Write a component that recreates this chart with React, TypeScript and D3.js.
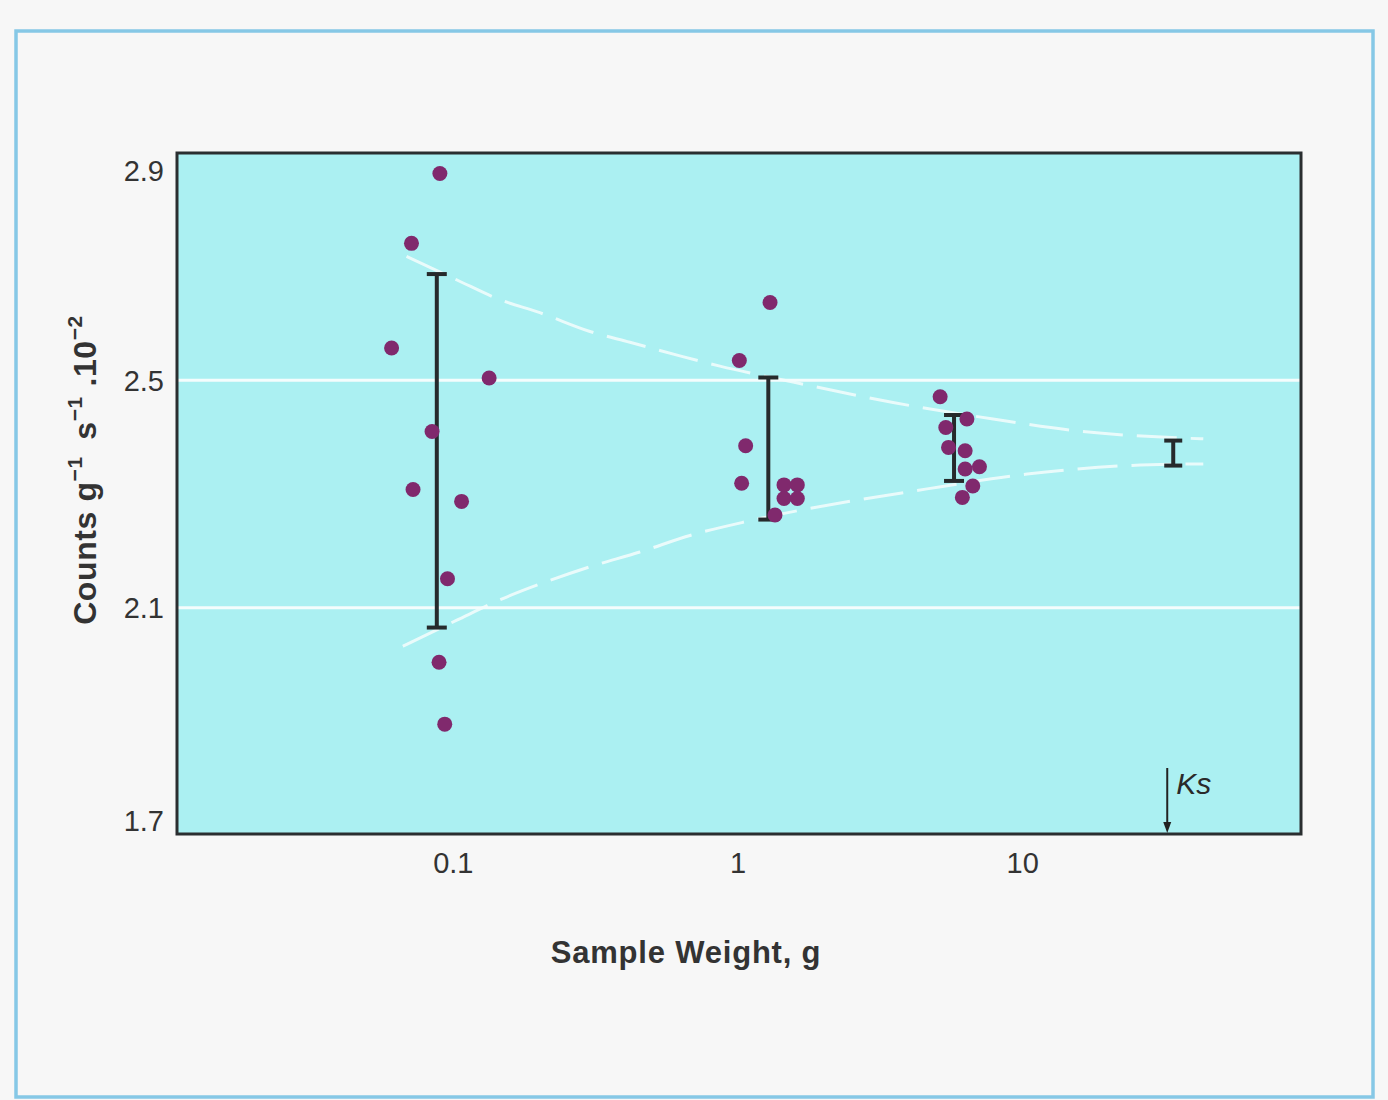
import React, { useEffect, useRef } from "react";
import * as d3 from "d3";

// sample weight (g) / counts g-1 s-1 .10-2
const set01W = [0.0897, 0.0713, 0.0607, 0.1336, 0.0842, 0.0722, 0.1069, 0.0954, 0.0891, 0.0933];
const set01V = [2.864, 2.741, 2.557, 2.504, 2.41, 2.308, 2.287, 2.151, 2.004, 1.895];
const set1W = [1.296, 1.011, 1.064, 1.03, 1.451, 1.616, 1.451, 1.616, 1.349];
const set1V = [2.637, 2.535, 2.385, 2.319, 2.316, 2.316, 2.292, 2.292, 2.263];
const set10W = [5.13, 6.37, 5.37, 5.49, 6.28, 6.28, 7.05, 6.68, 6.14];
const set10V = [2.471, 2.432, 2.417, 2.382, 2.376, 2.344, 2.348, 2.314, 2.294];

// mean +/- s.d. bars
const barW = [0.0875, 1.278, 5.74, 33.8];
const barLo = [2.065, 2.255, 2.323, 2.35];
const barHi = [2.687, 2.505, 2.439, 2.394];

// dashed envelope
const upperW = [0.0685, 0.1026, 0.1457, 0.2014, 0.302, 0.4173, 0.625, 0.864, 1.561, 3.506, 7.876, 15.54, 43.1];
const upperV = [2.718, 2.677, 2.642, 2.619, 2.586, 2.567, 2.543, 2.525, 2.497, 2.461, 2.432, 2.411, 2.397];
const lowerW = [0.0665, 0.1029, 0.1493, 0.2184, 0.302, 0.4522, 0.678, 1.102, 4.617, 10.37, 23.3, 43.1];
const lowerV = [2.032, 2.078, 2.116, 2.148, 2.172, 2.198, 2.227, 2.253, 2.309, 2.335, 2.35, 2.353];

const yTicks = [1.7, 2.1, 2.5, 2.9];
const gridVals = [2.1, 2.5];
const xTicks = [0.1, 1, 10];
const ksW = 32.2;

const W = 1388, H = 1100;
const font = "'Liberation Sans', Arial, Helvetica, sans-serif";

export default function App() {
  const ref = useRef<SVGSVGElement>(null);

  useEffect(() => {
    const svg = d3.select(ref.current);
    svg.selectAll("*").remove();

    const left = 177, right = 1301, top = 153, bottom = 834;
    const x = d3.scaleLog().domain([0.0107, 95]).range([left, right]);
    const y = d3.scaleLinear().domain([1.7, 2.9]).range([835, 153]);

    svg.append("rect").attr("width", W).attr("height", H).attr("fill", "#f7f7f7");
    svg.append("rect")
      .attr("x", 16).attr("y", 31).attr("width", 1357).attr("height", 1066)
      .attr("fill", "none").attr("stroke", "#86c8e6").attr("stroke-width", 3.5);

    svg.append("rect")
      .attr("x", left).attr("y", top).attr("width", right - left).attr("height", bottom - top)
      .attr("fill", "#abf0f2");

    svg.append("g").selectAll("line").data(gridVals).join("line")
      .attr("x1", left).attr("x2", right)
      .attr("y1", d => y(d)).attr("y2", d => y(d))
      .attr("stroke", "#f4fdfd").attr("stroke-width", 3);

    // envelope curves
    const line = d3.line<[number, number]>()
      .x(d => x(d[0])).y(d => y(d[1]))
      .curve(d3.curveMonotoneX);
    const env = svg.append("g")
      .attr("fill", "none").attr("stroke", "#f4fdfd").attr("stroke-width", 3)
      .attr("stroke-dasharray", "40 14").attr("opacity", 0.85);
    env.append("path").attr("d", line(upperW.map((w, i) => [w, upperV[i]])));
    env.append("path").attr("d", line(lowerW.map((w, i) => [w, lowerV[i]])));

    // error bars
    const bars = svg.append("g").attr("stroke", "#262a2c").attr("stroke-width", 4);
    barW.forEach((w, i) => {
      const cx = x(w);
      const hw = i === 3 ? 9 : 10;
      bars.append("line").attr("x1", cx).attr("x2", cx).attr("y1", y(barHi[i])).attr("y2", y(barLo[i]));
      bars.append("line").attr("x1", cx - hw).attr("x2", cx + hw).attr("y1", y(barHi[i])).attr("y2", y(barHi[i]));
      bars.append("line").attr("x1", cx - hw).attr("x2", cx + hw).attr("y1", y(barLo[i])).attr("y2", y(barLo[i]));
    });

    // points
    const pts: [number, number][] = [
      ...set01W.map((w, i) => [w, set01V[i]] as [number, number]),
      ...set1W.map((w, i) => [w, set1V[i]] as [number, number]),
      ...set10W.map((w, i) => [w, set10V[i]] as [number, number]),
    ];
    svg.append("g").selectAll("circle").data(pts).join("circle")
      .attr("cx", d => x(d[0])).attr("cy", d => y(d[1])).attr("r", 7.5)
      .attr("fill", "#80296d");

    // frame
    svg.append("rect")
      .attr("x", left).attr("y", top).attr("width", right - left).attr("height", bottom - top)
      .attr("fill", "none").attr("stroke", "#2a2e30").attr("stroke-width", 3);

    // Ks marker
    const kx = x(ksW);
    svg.append("line").attr("x1", kx).attr("x2", kx).attr("y1", 768).attr("y2", 826)
      .attr("stroke", "#222").attr("stroke-width", 2);
    svg.append("path")
      .attr("d", `M${kx - 4},${822} L${kx + 4},${822} L${kx},${bottom - 1} Z`)
      .attr("fill", "#222");
    svg.append("text").attr("x", kx + 9).attr("y", 794)
      .attr("font-family", font).attr("font-size", 30).attr("font-style", "italic")
      .attr("fill", "#2a2a2a").text("Ks");

    // y tick labels
    svg.append("g").selectAll("text").data(yTicks).join("text")
      .attr("x", 164)
      .attr("y", d => Math.min(Math.max(y(d), top + 18), bottom - 13))
      .attr("dy", "0.36em")
      .attr("text-anchor", "end")
      .attr("font-family", font).attr("font-size", 29).attr("fill", "#333")
      .text(d => d.toFixed(1));

    // x tick labels
    svg.append("g").selectAll("text").data(xTicks).join("text")
      .attr("x", d => x(d)).attr("y", 873)
      .attr("text-anchor", "middle")
      .attr("font-family", font).attr("font-size", 29).attr("fill", "#333")
      .text(d => String(d));

    svg.append("text").attr("x", 686).attr("y", 963)
      .attr("text-anchor", "middle")
      .attr("font-family", font).attr("font-size", 31).attr("font-weight", "bold")
      .attr("letter-spacing", 0.8)
      .attr("fill", "#333").text("Sample Weight, g");

    const yl = svg.append("text")
      .attr("transform", "translate(96,470) rotate(-90)")
      .attr("text-anchor", "middle")
      .attr("font-family", font).attr("font-size", 32).attr("font-weight", "bold")
      .attr("letter-spacing", 0.6)
      .attr("fill", "#333");
    yl.append("tspan").text("Counts g");
    yl.append("tspan").attr("dy", -14).attr("font-size", 21).text("\u22121");
    yl.append("tspan").attr("dy", 14).text("\u2002s");
    yl.append("tspan").attr("dy", -14).attr("font-size", 21).text("\u22121");
    yl.append("tspan").attr("dy", 14).text(" .10");
    yl.append("tspan").attr("dy", -14).attr("font-size", 21).text("\u22122");
  }, []);

  return (
    <div style={{ position: "absolute", left: 0, top: 0 }}>
      <svg ref={ref} width={W} height={H} />
    </div>
  );
}
